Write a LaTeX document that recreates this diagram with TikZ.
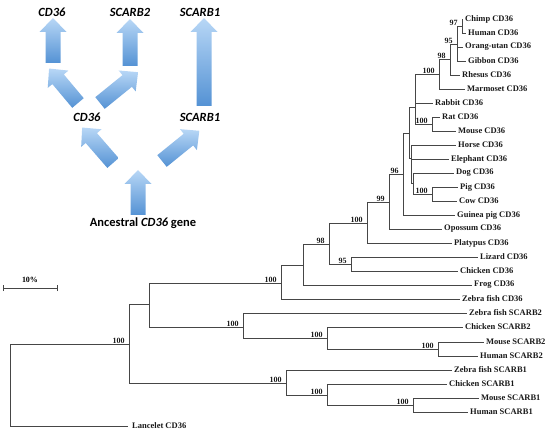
\documentclass[tikz,border=0pt]{standalone}
\usepackage{fontspec}
\setmainfont{Liberation Serif}
\newfontfamily\calib{Carlito}
\definecolor{treegray}{RGB}{70,70,70}
\definecolor{arrlight}{RGB}{184,215,246}
\definecolor{arrdark}{RGB}{84,146,212}
\newcommand{\blkarrow}[4]{%
  \begin{scope}[shift={(#1,#2)},x=1pt,y=1pt,rotate=#3]
    \shade[top color=arrlight,bottom color=arrdark]
      (-7.5,0) -- (-7.5,#4-14) -- (-13.5,#4-14) -- (0,#4) -- (13.5,#4-14) -- (7.5,#4-14) -- (7.5,0) -- cycle;
  \end{scope}}
\tikzset{
  br/.style={draw=treegray,line width=0.8pt},
  leaf/.style={anchor=west,inner xsep=2pt,inner ysep=0pt,font=\bfseries\fontsize{8.5}{9}\selectfont,text=black!90},
  bs/.style={anchor=south east,inner sep=0.6pt,xshift=-3.5pt,font=\bfseries\fontsize{8}{9}\selectfont,text=black!90},
  glab/.style={font=\calib\bfseries\itshape\fontsize{12.5}{14}\selectfont,text=black,inner sep=0pt},
}
\begin{document}
\begin{tikzpicture}[x=1pt,y=-1pt]
\useasboundingbox (0,0) rectangle (550,436);
% ---------- gene evolution diagram ----------
\node[glab] (tcd) at (52,12) {CD36};
\node[glab] (tsb2) at (130,12) {SCARB2};
\node[glab] (tsb1) at (200,12) {SCARB1};
\node[glab] (mcd) at (87,117) {CD36};
\node[glab] (msb1) at (200,117) {SCARB1};
\node[font=\calib\bfseries\fontsize{12.5}{14}\selectfont,inner sep=0pt] (anc) at (143,223) {Ancestral \textit{CD36} gene};
\blkarrow{53}{63}{0}{45}
\blkarrow{130}{66}{0}{47}
\blkarrow{204}{106}{0}{88}
\blkarrow{78}{103}{40}{45}
\blkarrow{100}{103}{-51}{49}
\blkarrow{113}{163}{41}{47}
\blkarrow{162}{161}{-51}{48}
\blkarrow{138}{215}{0}{45}
% ---------- scale bar ----------
\coordinate (sbl) at (3,288);
\coordinate (sbr) at (57,288);
\draw[br] (sbl) -- (sbr);
\draw[br] ([yshift=-3pt]sbl) -- ([yshift=3pt]sbl);
\draw[br] ([yshift=-3pt]sbr) -- ([yshift=3pt]sbr);
\node[font=\bfseries\fontsize{8}{9}\selectfont,inner sep=0pt] (sbt) at (30,280) {10\%};
% ---------- leaves ----------
\node[leaf] (chimp) at (463,19) {Chimp CD36};
\node[leaf] (human) at (466,33) {Human CD36};
\node[leaf] (orang) at (463,47) {Orang-utan CD36};
\node[leaf] (gibbon) at (466,61) {Gibbon CD36};
\node[leaf] (rhesus) at (460,75) {Rhesus CD36};
\node[leaf] (marmo) at (465,89) {Marmoset CD36};
\node[leaf] (rabbit) at (433,103) {Rabbit CD36};
\node[leaf] (rat) at (440,117) {Rat CD36};
\node[leaf] (mouse) at (456,131) {Mouse CD36};
\node[leaf] (horse) at (456,145) {Horse CD36};
\node[leaf] (eleph) at (449,159) {Elephant CD36};
\node[leaf] (dog) at (454,173) {Dog CD36};
\node[leaf] (pig) at (458,187) {Pig CD36};
\node[leaf] (cow) at (457,201) {Cow CD36};
\node[leaf] (guinea) at (455,215) {Guinea pig CD36};
\node[leaf] (opossum) at (442,229) {Opossum CD36};
\node[leaf] (platy) at (452,243) {Platypus CD36};
\node[leaf] (lizard) at (478,257) {Lizard CD36};
\node[leaf] (chick) at (458,271) {Chicken CD36};
\node[leaf] (frog) at (472,285) {Frog CD36};
\node[leaf] (zfc) at (460,299) {Zebra fish CD36};
\node[leaf] (zfs2) at (467,313) {Zebra fish SCARB2};
\node[leaf] (chs2) at (463,327) {Chicken SCARB2};
\node[leaf] (mos2) at (484,342) {Mouse SCARB2};
\node[leaf] (hus2) at (478,356) {Human SCARB2};
\node[leaf] (zfs1) at (452,370) {Zebra fish SCARB1};
\node[leaf] (chs1) at (447,384) {Chicken SCARB1};
\node[leaf] (mos1) at (479,398) {Mouse SCARB1};
\node[leaf] (hus1) at (468,412) {Human SCARB1};
\node[leaf,inner xsep=4pt] (lanc) at (128,426) {Lancelet CD36};
% ---------- internal nodes ----------
\coordinate (R) at (10,344);
\coordinate (A) at (129,344);
\coordinate (B) at (149,304);
\coordinate (S2) at (243,327);
\coordinate (S2b) at (327,338);
\coordinate (S2c) at (438,349);
\coordinate (S1) at (286,383);
\coordinate (S1b) at (327,395);
\coordinate (S1c) at (413,405);
\coordinate (C36) at (281,283);
\coordinate (N98) at (303,265);
\coordinate (N98b) at (329,244);
\coordinate (N95) at (351,264);
\coordinate (N100) at (367,223);
\coordinate (N99) at (389,202);
\coordinate (N96) at (403,174);
\coordinate (Nx) at (409,133);
\coordinate (Ny) at (415,107);
\coordinate (Nrod) at (432,124);
\coordinate (Nprim) at (439,74);
\coordinate (N98p) at (450,59);
\coordinate (N95p) at (457,44);
\coordinate (N97) at (462,26);
\coordinate (Nz) at (411,158);
\coordinate (Nw) at (413,183);
\coordinate (Npc) at (432,194);
% ---------- branches ----------
\foreach \p/\c in {R/A,R/lanc.west,A/B,A/S1,B/C36,B/S2,
  S2/zfs2.west,S2/S2b,S2b/chs2.west,S2b/S2c,S2c/mos2.west,S2c/hus2.west,
  S1/zfs1.west,S1/S1b,S1b/chs1.west,S1b/S1c,S1c/mos1.west,S1c/hus1.west,
  C36/N98,C36/zfc.west,N98/N98b,N98/frog.west,N98b/N100,N98b/N95,
  N95/lizard.west,N95/chick.west,N100/N99,N100/platy.west,N99/N96,N99/opossum.west,
  N96/Nx,N96/guinea.west,Nx/Ny,Nx/Nz,Ny/Nprim,Ny/rabbit.west,Ny/Nrod,
  Nrod/rat.west,Nrod/mouse.west,Nprim/N98p,Nprim/marmo.west,N98p/N95p,N98p/rhesus.west,
  N95p/N97,N95p/orang.west,N95p/gibbon.west,N97/chimp.west,N97/human.west,
  Nz/horse.west,Nz/eleph.west,Nz/Nw,Nw/dog.west,Nw/Npc,Npc/pig.west,Npc/cow.west}
  \draw[br] (\p) |- (\c);
% ---------- bootstrap values ----------
\path (A) node[bs]{100};
\path (C36) node[bs]{100};
\path (N98b) node[bs]{98};
\path (N95) node[bs]{95};
\path (N100) node[bs]{100};
\path (N99) node[bs]{99};
\path (N96) node[bs]{96};
\path (Nrod) node[bs]{100};
\path (Npc) node[bs]{100};
\path (Nprim) node[bs]{100};
\path (N98p) node[bs]{98};
\path (N95p) node[bs]{95};
\path (N97) node[bs]{97};
\path (S2) node[bs]{100};
\path (S2b) node[bs]{100};
\path (S2c) node[bs]{100};
\path (S1) node[bs]{100};
\path (S1b) node[bs]{100};
\path (S1c) node[bs]{100};
\end{tikzpicture}
\end{document}
